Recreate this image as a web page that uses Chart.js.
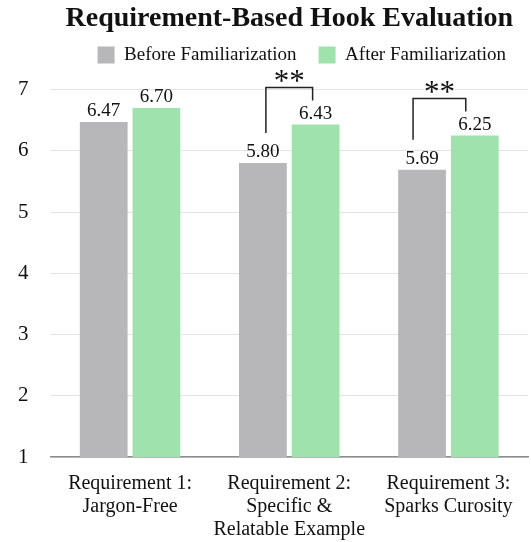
<!DOCTYPE html>
<html>
<head>
<meta charset="utf-8">
<script src="https://cdn.jsdelivr.net/npm/chart.js@4.4.0/dist/chart.umd.min.js"></script>
<style>
  body { margin: 0; background: #fff; }
  #wrap { width: 531px; height: 542px; }
</style>
</head>
<body>
<div id="wrap"><canvas id="hookChart"></canvas></div>
<script>
// ---- data ----
const categories = [
    ['Requirement 1:', 'Jargon-Free'],
    ['Requirement 2:', 'Specific &', 'Relatable Example'],
    ['Requirement 3:', 'Sparks Curosity']
];
const seriesNames = ['Before Familiarization', 'After Familiarization'];
const beforeValues = [6.47, 5.80, 5.69];
const afterValues = [6.70, 6.43, 6.25];
const yTicks = [1, 2, 3, 4, 5, 6, 7];
const sigGroups = [1, 2];        // index of category with significant difference
const sigMarks = ['**', '**'];

const FONT = 'Liberation Serif';

// value labels above bars
const valueLabels = {
    id: 'valueLabels',
    afterDatasetsDraw(chart) {
        const ctx = chart.ctx;
        ctx.save();
        ctx.font = '19px "' + FONT + '"';
        ctx.fillStyle = '#111';
        ctx.textAlign = 'center';
        ctx.textBaseline = 'alphabetic';
        chart.data.datasets.forEach((ds, di) => {
            chart.getDatasetMeta(di).data.forEach((bar, i) => {
                ctx.fillText(ds.data[i].toFixed(2), bar.x, bar.y - 6);
            });
        });
        ctx.restore();
    }
};

// significance brackets
const sigBrackets = {
    id: 'sigBrackets',
    afterDatasetsDraw(chart, args, opts) {
        const ctx = chart.ctx;
        const m0 = chart.getDatasetMeta(0).data;
        const m1 = chart.getDatasetMeta(1).data;
        ctx.save();
        ctx.strokeStyle = '#222';
        ctx.lineWidth = 1.5;
        sigGroups.forEach((g, k) => {
            const shift = opts.shifts[k];
            const xl = m0[g].x + shift[0];
            const xr = m1[g].x + shift[1];
            const yl = m0[g].y - 30;
            const yr = m1[g].y - 24;
            const yt = Math.min(yl, yr) - 13;
            ctx.beginPath();
            ctx.moveTo(xl, yl);
            ctx.lineTo(xl, yt);
            ctx.lineTo(xr, yt);
            ctx.lineTo(xr, yr);
            ctx.stroke();
            ctx.font = '31px "' + FONT + '"';
            ctx.fillStyle = '#111';
            ctx.textAlign = 'center';
            ctx.textBaseline = 'alphabetic';
            ctx.fillText(sigMarks[k], (xl + xr) / 2, yt + 3);
        });
        ctx.restore();
    }
};

new Chart(document.getElementById('hookChart'), {
    type: 'bar',
    data: {
        labels: categories,
        datasets: [
            { label: seriesNames[0], data: beforeValues, backgroundColor: '#b7b7b9',
              categoryPercentage: 0.6625, barPercentage: 0.906 },
            { label: seriesNames[1], data: afterValues, backgroundColor: '#9fe2ad',
              categoryPercentage: 0.6625, barPercentage: 0.906 }
        ]
    },
    options: {
        responsive: true,
        maintainAspectRatio: false,
        animation: false,
        layout: { padding: { left: -4, right: 3, top: 0, bottom: 0 } },
        plugins: {
            title: {
                display: true,
                text: 'Requirement-Based Hook Evaluation',
                fullSize: false,
                color: '#111',
                font: { family: FONT, size: 28, weight: 'bold' },
                padding: { top: 2, bottom: -12 }
            },
            subtitle: {
                // spacer between legend and plot
                display: true,
                text: '',
                weight: 500,
                font: { size: 15, lineHeight: 1 },
                padding: 0
            },
            legend: {
                align: 'end',
                fullSize: false,
                labels: {
                    color: '#111',
                    boxWidth: 17,
                    boxHeight: 17,
                    padding: 22,
                    font: { family: FONT, size: 19 }
                }
            },
            tooltip: { enabled: false },
            sigBrackets: { shifts: [[3, -3], [-9, -9]] }
        },
        scales: {
            x: {
                grid: { display: false, drawTicks: false },
                border: { display: true, color: '#8c8c8c', width: 1.5 },
                afterFit(scale) { scale.height = 85; },
                ticks: { color: '#111', padding: 15, maxRotation: 0, minRotation: 0, autoSkip: false,
                         font: { family: FONT, size: 20, lineHeight: 1.16 } }
            },
            y: {
                min: yTicks[0],
                max: yTicks[yTicks.length - 1],
                afterBuildTicks(scale) { scale.ticks = yTicks.map(v => ({ value: v })); },
                grid: { color: '#e3e3e3', lineWidth: 1, drawTicks: false },
                border: { display: false },
                ticks: { color: '#111', padding: 22, font: { family: FONT, size: 21 } }
            }
        }
    },
    plugins: [valueLabels, sigBrackets]
});
</script>
</body>
</html>
